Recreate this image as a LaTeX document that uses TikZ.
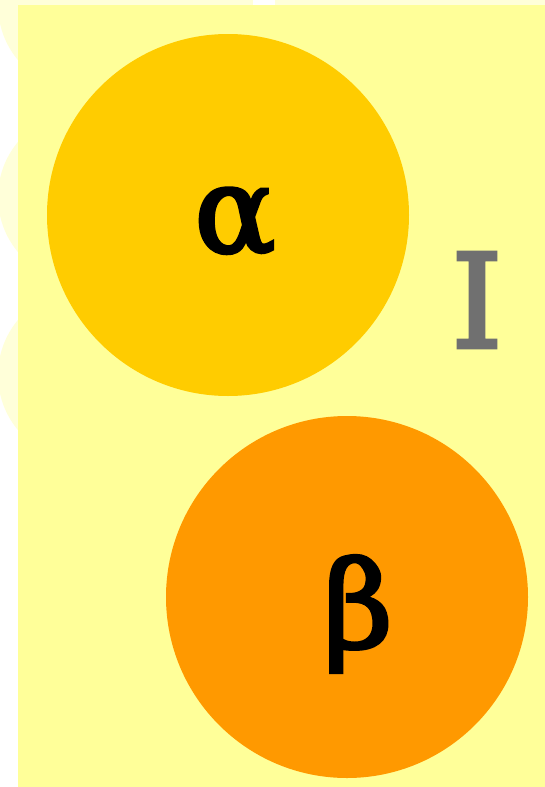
\documentclass[tikz,border=0pt]{standalone}
\usepackage{fontspec}
\setmainfont{DejaVu Serif}
\newfontfamily\glyphfont[FakeBold=3]{DejaVu Serif}
\definecolor{paleyellow}{HTML}{FFFFD9}
\definecolor{cellyellow}{HTML}{FFFF99}
\definecolor{gold}{HTML}{FFCC00}
\definecolor{tangerine}{HTML}{FF9900}
\definecolor{labelgray}{HTML}{707070}

\begin{document}
\begin{tikzpicture}[
  x=1pt, y=-1pt,
  ghost/.style={fill=paleyellow, draw=none},
  ball/.style={circle, draw=none, minimum size=362pt, inner sep=0pt},
  letter/.style={font=\glyphfont\fontsize{120}{120}\selectfont, inner sep=0pt},
  tag/.style={font=\glyphfont\fontsize{130}{130}\selectfont, text=labelgray, inner sep=0pt}
]
\useasboundingbox (0,0) rectangle (545,787);
% faint neighbours behind the cell
\fill[ghost] (0,0) rectangle (253,5);
\fill[ghost] (275,0) rectangle (545,5);
\foreach \cy in {5,197,375}
  \fill[ghost] (84,\cy) circle[radius=86];
% the cell
\node[fill=cellyellow, minimum width=527pt, minimum height=782pt, inner sep=0pt, anchor=north west] (cell) at (18,5) {};
\node[ball, fill=gold] (alpha) at (228,215) {};
\node[ball, fill=tangerine] (beta) at (347,597) {};
\node[letter] (alphatxt) at ([xshift=7pt,yshift=-7pt]alpha.center) {α};
\node[letter] (betatxt) at ([xshift=11pt,yshift=-17pt]beta.center) {β};
\node[tag] (roman) at (477,300) {I};
\end{tikzpicture}
\end{document}
